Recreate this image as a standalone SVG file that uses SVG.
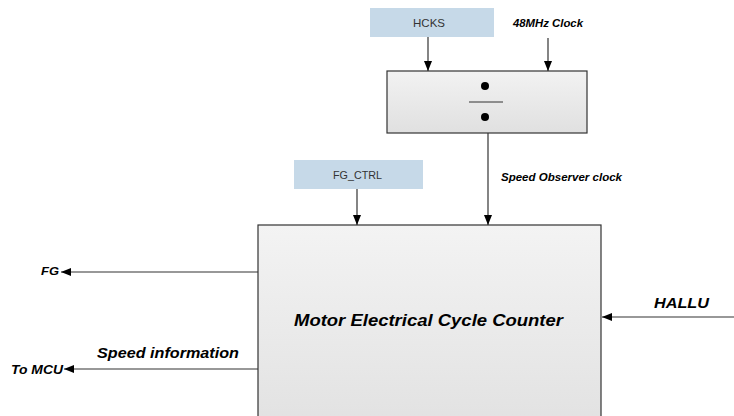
<svg xmlns="http://www.w3.org/2000/svg" width="734" height="416" viewBox="0 0 734 416">
<defs>
<linearGradient id="gMain" x1="0" y1="0" x2="0" y2="1">
<stop offset="0" stop-color="#f3f3f3"/><stop offset="1" stop-color="#e2e2e2"/>
</linearGradient>
<linearGradient id="gDiv" x1="0" y1="0" x2="0" y2="1">
<stop offset="0" stop-color="#f2f2f2"/><stop offset="1" stop-color="#e0e0e0"/>
</linearGradient>
<marker id="arr" viewBox="0 0 10 10" refX="10" refY="5" markerWidth="10" markerHeight="10" markerUnits="userSpaceOnUse" orient="auto">
<path d="M0,1 L10,5 L0,9 z" fill="#000"/>
</marker>
<style>
.lbl{font-family:"Liberation Sans",Arial,sans-serif;font-weight:bold;font-style:italic;fill:#000}
.reg{font-family:"Liberation Sans",Arial,sans-serif;font-size:11px;fill:#333}
.blue{fill:#c6d9e8}
.box{stroke:#333;stroke-width:1.2}
.ln{stroke:#333;stroke-width:1.2;fill:none;marker-end:url(#arr)}
</style>
</defs>
<rect width="734" height="416" fill="#fff"/>
<g id="hcks">
<rect class="blue" x="370" y="8" width="124" height="29"/>
<text class="reg" x="413" y="27" textLength="32" lengthAdjust="spacingAndGlyphs">HCKS</text>
</g>
<g id="clk48">
<text class="lbl" font-size="11" x="513" y="27" textLength="70" lengthAdjust="spacingAndGlyphs">48MHz Clock</text>
</g>
<g id="divider">
<rect class="box" x="387" y="71" width="200" height="62" fill="url(#gDiv)"/>
<circle cx="485" cy="86" r="4" fill="#000"/>
<line x1="469" y1="102" x2="503" y2="102" stroke="#333" stroke-width="1"/>
<circle cx="485" cy="117" r="4" fill="#000"/>
</g>
<g id="fgctrl">
<rect class="blue" x="294" y="160" width="129" height="29"/>
<text class="reg" x="333" y="179" textLength="49" lengthAdjust="spacingAndGlyphs">FG_CTRL</text>
</g>
<g id="counter">
<rect class="box" x="258" y="225" width="343" height="200" fill="url(#gMain)"/>
<text class="lbl" font-size="17" x="294" y="326" textLength="269" lengthAdjust="spacingAndGlyphs">Motor Electrical Cycle Counter</text>
</g>
<g id="labels">
<text class="lbl" font-size="11" x="501" y="181" textLength="121" lengthAdjust="spacingAndGlyphs">Speed Observer clock</text>
<text class="lbl" font-size="11" x="41" y="275" textLength="18" lengthAdjust="spacingAndGlyphs">FG</text>
<text class="lbl" font-size="13" x="11" y="374" textLength="52" lengthAdjust="spacingAndGlyphs">To MCU</text>
<text class="lbl" font-size="15" x="97" y="358" textLength="142" lengthAdjust="spacingAndGlyphs">Speed information</text>
<text class="lbl" font-size="15" x="654" y="308" textLength="55" lengthAdjust="spacingAndGlyphs">HALLU</text>
</g>
<g id="connectors">
<line class="ln" x1="428" y1="37" x2="428" y2="71"/>
<line class="ln" x1="548" y1="38" x2="548" y2="71"/>
<line class="ln" x1="488" y1="133" x2="488" y2="225"/>
<line class="ln" x1="357" y1="189" x2="357" y2="225"/>
<line class="ln" x1="258" y1="272" x2="61" y2="272"/>
<line class="ln" x1="258" y1="369" x2="64" y2="369"/>
<line class="ln" x1="734" y1="317" x2="602" y2="317"/>
</g>
</svg>
